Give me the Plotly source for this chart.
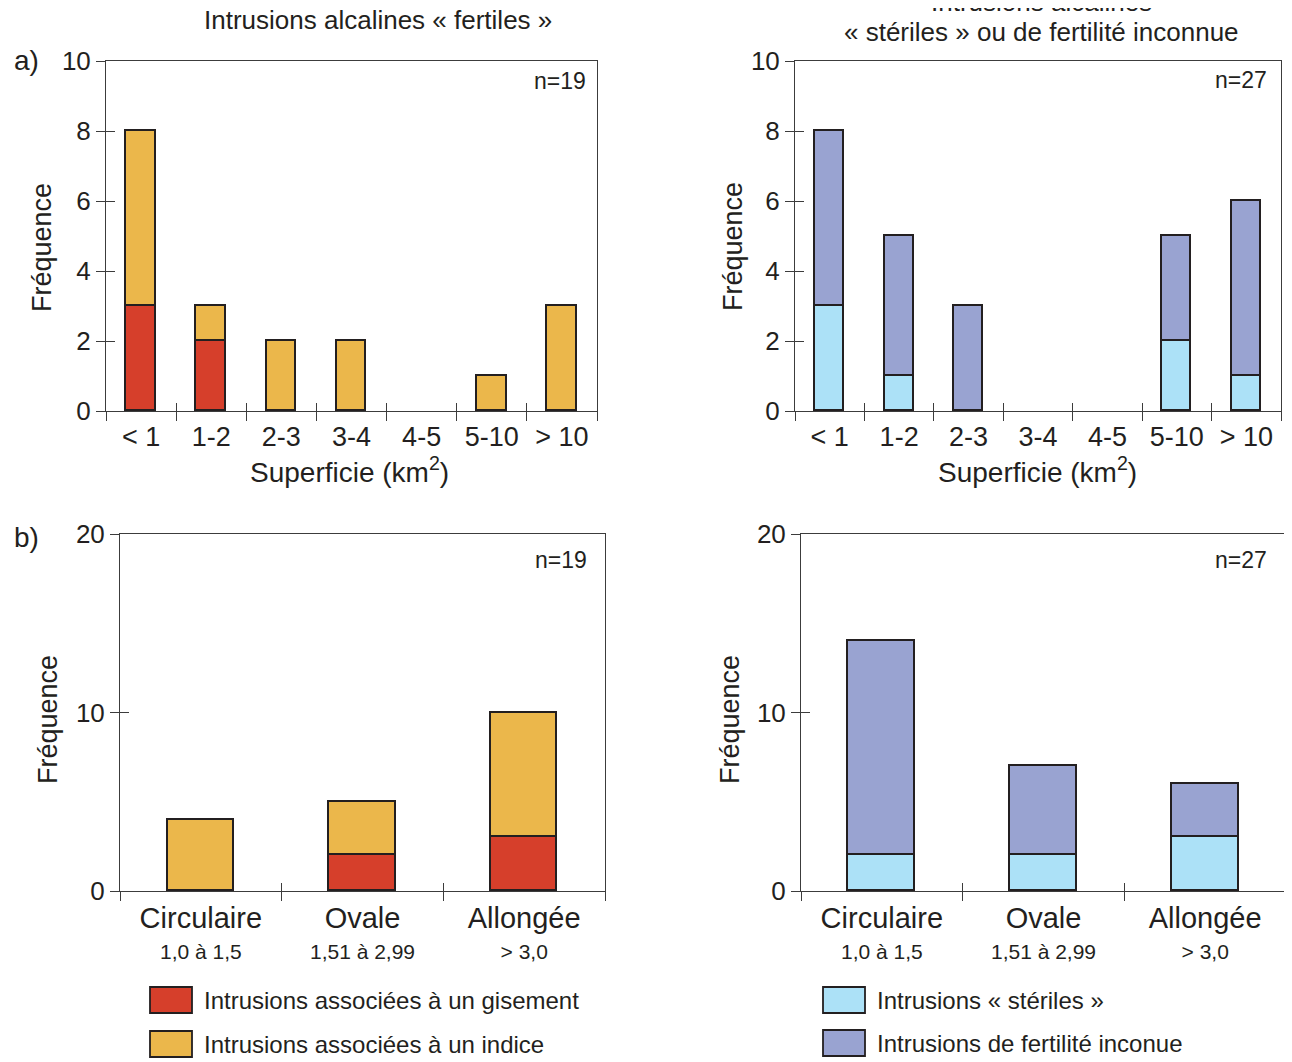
import plotly.graph_objects as go

W, H = 1292, 1062
OX, OY = 8, 8  # page offset of the figure inside the window

# ---------------- data ----------------
area_labels = ["< 1", "1-2", "2-3", "3-4", "4-5", "5-10", "> 10"]
shape_labels = ["Circulaire", "Ovale", "Allongée"]
shape_ranges = ["1,0 à 1,5", "1,51 à 2,99", "> 3,0"]

fert_area_gisement = [3, 2, 0, 0, 0, 0, 0]
fert_area_indice = [5, 1, 2, 2, 0, 1, 3]
ster_area_steriles = [3, 1, 0, 0, 0, 2, 1]
ster_area_inconnue = [5, 4, 3, 0, 0, 3, 5]

fert_shape_gisement = [0, 2, 3]
fert_shape_indice = [4, 3, 7]
ster_shape_steriles = [2, 2, 3]
ster_shape_inconnue = [12, 5, 3]

y_ticks_area = [0, 2, 4, 6, 8, 10]
y_ticks_shape = [0, 10, 20]

n_fertiles = "n=19"
n_steriles = "n=27"

# ---------------- style ----------------
RED = "#D63F2B"
YELLOW = "#EBB74B"
LBLUE = "#ACE1F7"
PURPLE = "#99A3D1"
DARK = "#231F20"
AXC = "#3C3C3C"
FONT = "Liberation Sans, Arial, Helvetica, sans-serif"


def PX(x):
    return (x - OX) / W


def PY(y):
    return 1 - (y - OY) / H


def nz(vals):
    return [v if v else None for v in vals]


area_text = area_labels
shape_text = [f"<span style='font-size:29px'>{a}</span><br><span style='font-size:21px'>{b}</span>"
              for a, b in zip(shape_labels, shape_ranges)]

# (index, x-px box, y-px box, ymax, yticks, ticktext, series, bar width, tick font, label offset)
panels = [
    (1, (106, 597), (61, 411), 10, y_ticks_area, area_text,
     [(fert_area_gisement, RED), (fert_area_indice, YELLOW)], 0.42, 27, 2),
    (2, (795, 1281), (61, 411), 10, y_ticks_area, area_text,
     [(ster_area_steriles, LBLUE), (ster_area_inconnue, PURPLE)], 0.42, 27, 2),
    (3, (120, 605), (534, 891), 20, y_ticks_shape, shape_text,
     [(fert_shape_gisement, RED), (fert_shape_indice, YELLOW)], 0.41, 24, 7),
    (4, (801, 1286), (534, 891), 20, y_ticks_shape, shape_text,
     [(ster_shape_steriles, LBLUE), (ster_shape_inconnue, PURPLE)], 0.415, 24, 7),
]

fig = go.Figure()
layout_axes = {}


def ax_name(i):
    return "" if i == 1 else str(i)


for (k, (xa, xb), (yt, yb), ymax, yticks, ttext, series, bw, tfs, loff) in panels:
    n = len(ttext)
    centers = list(range(n))
    bounds = [i - 0.5 for i in range(n + 1)]
    xn, yn = "x" + ax_name(k), "y" + ax_name(k)
    xdom = [PX(xa), PX(xb)]
    ydom = [PY(yb), PY(yt)]
    xr = [-0.5, n - 0.5]
    for vals, col in series:
        fig.add_trace(go.Bar(
            x=centers, y=nz(vals), width=bw,
            marker=dict(color=col, line=dict(color=DARK, width=1.8)),
            xaxis=xn, yaxis=yn, showlegend=False, hoverinfo="skip",
        ))
    common = dict(showgrid=False, zeroline=False, fixedrange=True)
    # main axes: frame + outer half of crossing ticks
    layout_axes["xaxis" + ax_name(k)] = dict(
        domain=xdom, anchor=yn, range=xr, tickmode="array", tickvals=bounds,
        ticks="outside", ticklen=9, tickcolor=AXC, tickwidth=1, showticklabels=False,
        showline=True, mirror=True, linecolor=AXC, linewidth=1, **common,
    )
    layout_axes["yaxis" + ax_name(k)] = dict(
        domain=ydom, anchor=xn, range=[0, ymax], tickmode="array", tickvals=yticks,
        ticks="outside", ticklen=9, tickcolor=AXC, tickwidth=1,
        tickfont=dict(size=26, color=DARK, family=FONT),
        showline=True, mirror=True, linecolor=AXC, linewidth=1, **common,
    )
    # inner half of the crossing ticks
    layout_axes[f"xaxis{k + 4}"] = dict(
        overlaying=xn, anchor=yn, domain=xdom, range=xr, tickmode="array", tickvals=bounds,
        ticks="inside", ticklen=8, tickcolor=AXC, tickwidth=1, showticklabels=False,
        showline=False, **common,
    )
    layout_axes[f"yaxis{k + 4}"] = dict(
        overlaying=yn, anchor=xn, domain=ydom, range=[0, ymax], tickmode="array", tickvals=yticks,
        ticks="inside", ticklen=9, tickcolor=AXC, tickwidth=1, showticklabels=False,
        showline=False, **common,
    )
    # category labels centred in each class
    layout_axes[f"xaxis{k + 8}"] = dict(
        overlaying=xn, anchor=yn, domain=xdom, range=xr, tickmode="array", tickvals=centers,
        ticktext=ttext, ticks="outside", ticklen=loff, tickcolor="rgba(0,0,0,0)",
        tickfont=dict(size=tfs, color=DARK, family=FONT), showline=False, **common,
    )
    for ox in (f"x{k + 4}", f"x{k + 8}"):
        fig.add_trace(go.Scatter(x=[None], y=[None], xaxis=ox, yaxis=f"y{k + 4}",
                                 showlegend=False, hoverinfo="skip", mode="markers"))

annotations = []


def ann(text, x, y, size, xanchor="center", yanchor="middle", angle=0):
    annotations.append(dict(
        text=text, x=PX(x), y=PY(y), xref="paper", yref="paper",
        xanchor=xanchor, yanchor=yanchor, showarrow=False, textangle=angle,
        font=dict(size=size, color=DARK, family=FONT),
    ))


# titles
ann("Intrusions alcalines « fertiles »", 378, 20, 26)
ann("Intrusions alcalines", 1041, 2, 26)
ann("« stériles » ou de fertilité inconnue", 1041, 32, 26)
# panel letters
ann("a)", 26, 61, 28)
ann("b)", 26, 537, 28)
# axis titles
ann("Fréquence", 42, 248, 27, angle=-90)
ann("Fréquence", 733, 247, 27, angle=-90)
ann("Fréquence", 48, 720, 27, angle=-90)
ann("Fréquence", 730, 720, 27, angle=-90)
ann("Superficie (km<sup>2</sup>)", 349, 470, 28)
ann("Superficie (km<sup>2</sup>)", 1037, 470, 28)
# n labels
ann(n_fertiles, 588, 81, 23, xanchor="right")
ann(n_steriles, 1269, 80, 23, xanchor="right")
ann(n_fertiles, 589, 560, 23, xanchor="right")
ann(n_steriles, 1269, 560, 23, xanchor="right")

# legends (swatch + label)
legend_items = [
    (RED, "Intrusions associées à un gisement", 150, 987),
    (YELLOW, "Intrusions associées à un indice", 150, 1031),
    (LBLUE, "Intrusions « stériles »", 823, 987),
    (PURPLE, "Intrusions de fertilité inconue", 823, 1030),
]
shapes = []
for col, label, lx, ly in legend_items:
    shapes.append(dict(type="rect", xref="paper", yref="paper",
                       x0=PX(lx), x1=PX(lx + 42), y0=PY(ly + 26), y1=PY(ly),
                       fillcolor=col, line=dict(color=DARK, width=1.8)))
    ann(label, lx + 52, ly + 13, 24, xanchor="left")

fig.update_layout(
    width=W, height=H, margin=dict(l=0, r=0, t=0, b=0, autoexpand=False),
    paper_bgcolor="white", plot_bgcolor="white",
    barmode="stack", bargap=0,
    font=dict(family=FONT, color=DARK),
    annotations=annotations, shapes=shapes, showlegend=False,
    **layout_axes,
)

fig.write_html("out.html")
